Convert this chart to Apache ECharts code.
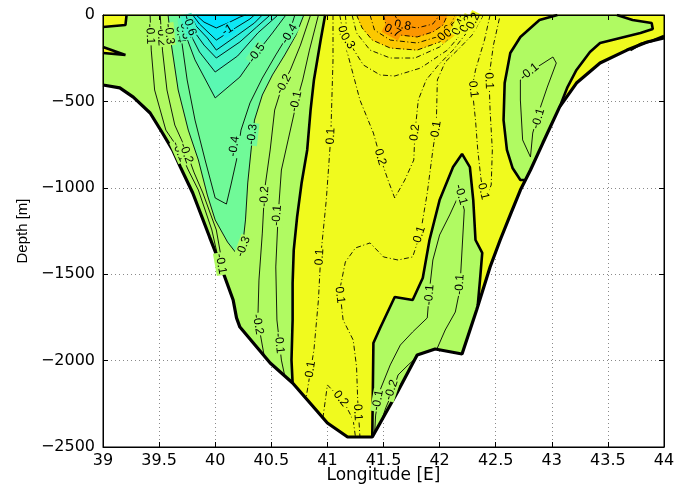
<!DOCTYPE html>
<html>
<head>
<meta charset="utf-8">
<script src="https://cdn.jsdelivr.net/npm/echarts/dist/echarts.min.js"></script>
<style>
  html, body { margin: 0; padding: 0; background: #fff; }
  #chart { width: 674px; height: 487px; }
</style>
</head>
<body>
<div id="chart"></div>
<script>
// ---- axes -------------------------------------------------------------
const lonTicks = [39, 39.5, 40, 40.5, 41, 41.5, 42, 42.5, 43, 43.5, 44];
const depthTicks = [-2500, -2000, -1500, -1000, -500, 0];

// ---- section geometry: [longitude, depth] ------------------------------
const seafloor = [[39.00,-405],[39.15,-422],[39.27,-475],[39.42,-567],[39.53,-683],[39.62,-781],[39.69,-880],
  [39.80,-1030],[39.95,-1285],[40.04,-1435],[40.16,-1649],[40.19,-1753],[40.22,-1806],[40.49,-2014],
  [40.69,-2130],[41.00,-2361],[41.18,-2442],[41.40,-2442],[41.47,-2361],[41.62,-2188],[41.80,-1968],
  [41.96,-1933],[42.20,-1962],[42.33,-1707],[42.45,-1458],[42.54,-1302],[42.63,-1157],[42.72,-1013],
  [42.81,-897],[42.92,-741],[43.07,-532],[43.22,-394],[43.43,-278],[43.67,-203],[43.85,-156],[44.00,-133]];

// zero contours (thick)
const zeroPatchTop = [[39.00,-69],[39.20,-58],[39.21,0]];
const zeroWedge = [[39.00,-185],[39.20,-231],[39.00,-220]];
const zeroLeft = [[40.98,0],[40.94,-145],[40.91,-260],[40.88,-376],[40.85,-550],[40.82,-781],[40.77,-972],
  [40.73,-1169],[40.70,-1360],[40.69,-1551],[40.69,-1765],[40.68,-1997],[40.69,-2130]];
const zeroTongue = [[41.40,-2442],[41.41,-1898],[41.47,-1811],[41.60,-1632],[41.76,-1649],[41.85,-1522],
  [41.91,-1302],[42.00,-1071],[42.12,-880],[42.20,-804],[42.27,-880],[42.30,-1071],[42.32,-1302],
  [42.38,-1377],[42.36,-1534],[42.34,-1680]];
const zeroBandLeft = [[43.05,0],[42.89,-29],[42.72,-127],[42.63,-220],[42.58,-394],[42.57,-608],
  [42.60,-781],[42.65,-885],[42.72,-955],[42.76,-955]];
const zeroBandRight = [[43.07,-532],[43.14,-417],[43.22,-318],[43.34,-214],[43.43,-162],[43.61,-133],
  [43.79,-104],[43.90,-81],[43.89,-46],[43.72,-29],[43.58,0]];
const zeroSliver = [[43.70,-203],[43.79,-168],[43.89,-150],[44.00,-122]];

// negative contours (solid)
const levelM03 = [[39.58,0],[39.61,-174],[39.67,-434],[39.76,-666],[39.85,-839],[39.93,-1042],[40.00,-1186],
  [40.11,-1314],[40.20,-1389],[40.25,-1302],[40.27,-1186],[40.29,-972],[40.32,-781],[40.35,-608],
  [40.42,-463],[40.51,-347],[40.62,-231],[40.72,-116],[40.79,0]];
const levelM05 = [[39.70,0],[39.72,-87],[39.82,-260],[40.00,-480],[40.22,-359],[40.37,-220],[40.51,-104],[40.63,0]];
const levelM06 = [[39.72,0],[39.76,-87],[39.86,-214],[40.00,-330],[40.20,-237],[40.38,-104],[40.56,0]];
const levelM07 = [[39.75,0],[39.79,-75],[39.90,-174],[40.01,-249],[40.22,-156],[40.37,-69],[40.49,0]];
const levelM08 = [[39.78,0],[39.83,-64],[39.93,-133],[40.01,-203],[40.20,-116],[40.35,-46],[40.42,0]];
const levelM09 = [[39.80,0],[39.86,-52],[40.01,-145],[40.18,-75],[40.31,-23],[40.35,0]];
const levelM10 = [[39.83,0],[39.90,-41],[40.01,-75],[40.13,-41],[40.22,-12],[40.27,0]];
const levelM04 = [[40.71,0],[40.66,-104],[40.54,-231],[40.42,-365],[40.31,-509],[40.23,-666],[40.19,-839],
  [40.14,-984],[40.10,-1094],[40.00,-1059],[39.91,-839],[39.82,-608],[39.75,-376],[39.70,-145],[39.68,0]];
const levelM02East = [[40.85,0],[40.76,-174],[40.67,-318],[40.60,-405],[40.53,-550],[40.49,-781],[40.44,-1013],
  [40.42,-1262],[40.39,-1534],[40.38,-1765],[40.40,-1840],[40.44,-1985]];
const levelM01East = [[40.92,0],[40.84,-203],[40.78,-376],[40.73,-492],[40.65,-723],[40.59,-897],[40.56,-1169],
  [40.54,-1458],[40.55,-1765],[40.59,-1997],[40.62,-2089]];
const levelM02West = [[39.51,0],[39.53,-203],[39.57,-434],[39.64,-637],[39.74,-781],[39.81,-909],[39.89,-1030],
  [40.01,-1244],[40.07,-1464]];
const levelM01West = [[39.42,0],[39.43,-203],[39.46,-434],[39.56,-666],[39.68,-781],[39.76,-897],[39.85,-1013],
  [39.97,-1244],[40.03,-1418]];
const levelM01Tongue = [[41.42,-2430],[41.43,-2315],[41.47,-2170],[41.56,-2025],[41.65,-1910],[41.76,-1834],
  [41.89,-1753],[41.91,-1591],[41.94,-1418],[42.00,-1273],[42.09,-1157],[42.18,-1030],[42.22,-1128],
  [42.20,-1360],[42.18,-1591],[42.14,-1719],[42.05,-1823],[41.98,-1927]];
const levelM02Slope = [[41.81,-1973],[41.72,-2025],[41.63,-2083],[41.58,-2182],[41.52,-2274],[41.48,-2350]];
const levelM01Band = [[42.72,-376],[42.83,-318],[43.01,-243],[43.04,-278],[42.96,-417],[42.89,-550],
  [42.83,-683],[42.81,-822],[42.74,-723],[42.72,-492],[42.72,-376]];

// positive contours (dash-dot)
const levelP05 = [[41.26,0],[41.31,-75],[41.40,-145],[41.56,-191],[41.80,-203],[42.00,-156],[42.14,-81],[42.19,0]];
const levelP07 = [[41.50,0],[41.53,-75],[41.65,-116],[41.80,-127],[41.94,-98],[42.03,-58],[42.07,0]];
const levelP06 = [[41.38,0],[41.42,-87],[41.56,-145],[41.80,-162],[42.00,-122],[42.11,-41],[42.14,0]];
const levelP08 = [[41.60,0],[41.65,-58],[41.80,-75],[41.94,-52],[42.00,0]];
const levelP04 = [[41.22,0],[41.26,-104],[41.38,-203],[41.56,-249],[41.78,-249],[42.00,-185],[42.15,-98],[42.22,0]];
const levelP03 = [[41.16,0],[41.18,-145],[41.32,-289],[41.47,-347],[41.60,-353],[41.83,-307],[42.07,-203],
  [42.20,-104],[42.27,0]];
const levelP02 = [[41.11,0],[41.16,-174],[41.29,-492],[41.41,-683],[41.47,-822],[41.54,-955],[41.60,-1059],
  [41.69,-955],[41.77,-839],[41.78,-683],[41.81,-492],[41.88,-376],[41.99,-289],[42.12,-203],[42.24,-104],[42.32,0]];
const levelP01West = [[41.05,0],[41.05,-260],[41.03,-706],[40.99,-1071],[40.94,-1400],[40.92,-1649],
  [40.88,-1939],[40.81,-2216]];
const levelP01Mid = [[42.39,0],[42.29,-116],[42.16,-203],[42.05,-272],[41.98,-376],[41.97,-648],[41.94,-781],
  [41.89,-1030],[41.83,-1262],[41.76,-1400],[41.63,-1418],[41.50,-1400],[41.38,-1319],[41.25,-1348],
  [41.16,-1429],[41.11,-1591],[41.14,-1765],[41.23,-1881],[41.26,-2037],[41.27,-2228],[41.29,-2442]];
const levelP01East = [[42.45,0],[42.40,-145],[42.32,-318],[42.29,-422],[42.32,-608],[42.34,-781],[42.37,-955],
  [42.41,-1059],[42.46,-984],[42.47,-781],[42.45,-550],[42.44,-359],[42.48,-174],[42.54,0]];
const levelP02Deep = [[40.96,-2332],[41.00,-2141],[41.07,-2188],[41.17,-2268],[41.23,-2344],[41.25,-2442]];

// contour labels: [longitude, depth, text]
const contourLabels = [
  [40.11,-87,'-1'], [40.37,-220,'-0.5'], [40.66,-110,'-0.4'], [40.17,-760,'-0.4'],
  [40.33,-690,'-0.3'], [40.25,-1340,'-0.3'], [40.61,-400,'-0.2'], [40.44,-1050,'-0.2'],
  [40.38,-1790,'-0.2'], [40.72,-500,'-0.1'], [40.55,-1160,'-0.1'], [40.57,-1900,'-0.1'],
  [39.68,-790,'-0.1'], [39.74,-800,'-0.2'], [40.05,-1440,'-0.1'],
  [39.42,-110,'-0.1'], [39.52,-120,'-0.2'], [39.59,-110,'-0.3'], [39.69,-100,'-0.4'],
  [39.73,-80,'-0.5'], [39.77,-60,'-0.6'],
  [41.14,-110,'0.2'], [41.18,-150,'0.3'], [41.67,-60,'0.8'], [41.58,-92,'0.7'],
  [42.05,-104,'0.6'], [42.11,-87,'0.5'], [42.17,-69,'0.4'], [42.24,-52,'0.3'], [42.30,-35,'0.2'],
  [41.03,-700,'0.1'], [40.93,-1400,'0.1'], [40.85,-2050,'0.1'],
  [41.47,-822,'0.2'], [41.78,-680,'0.2'], [41.97,-660,'0.1'], [41.82,-1270,'0.1'],
  [41.11,-1620,'0.1'], [41.27,-2300,'0.1'], [41.12,-2220,'0.2'],
  [42.30,-430,'0.1'], [42.44,-380,'0.1'], [42.39,-1020,'0.1'],
  [42.19,-1040,'-0.1'], [41.91,-1620,'-0.1'], [42.18,-1560,'-0.1'], [41.45,-2230,'-0.1'], [41.57,-2170,'-0.2'],
  [42.80,-330,'-0.1'], [42.88,-600,'-0.1']
];

// ---- colours --------------------------------------------------------------
const C = {
  yellow: '#f0fa1e', lime: '#b0fa62', teal: '#70fa98',
  c05: '#5af8b2', c06: '#46f4c6', c07: '#32f0d8', c08: '#1eece8', c09: '#0ee8f4', c10: '#00e2ff',
  gold: '#fcc800', orange: '#fc9600'
};

// ---- filled regions built from the contours and the seafloor --------------
const xMin = lonTicks[0], xMax = lonTicks[lonTicks.length - 1];
const waterFill = [[xMin, 0], [xMax, 0]].concat(seafloor.slice().reverse());
const leftNegFill = zeroPatchTop
  .concat(zeroLeft)
  .concat(seafloor.slice(0, 14).reverse())
  .concat(zeroWedge.slice().reverse());
const tongueFill = zeroTongue.concat(seafloor.slice(17, 23).reverse());
const bandFill = zeroBandLeft.concat(seafloor.slice(28, 30)).concat(zeroBandRight);
const sliverFill = zeroSliver.concat([seafloor[35], seafloor[34]]);

const fills = [
  { pts: waterFill, color: C.yellow },
  { pts: leftNegFill, color: C.lime },
  { pts: levelM03, color: C.teal },
  { pts: levelM05, color: C.c05 },
  { pts: levelM06, color: C.c06 },
  { pts: levelM07, color: C.c07 },
  { pts: levelM08, color: C.c08 },
  { pts: levelM09, color: C.c09 },
  { pts: levelM10, color: C.c10 },
  { pts: tongueFill, color: C.lime },
  { pts: bandFill, color: C.lime },
  { pts: sliverFill, color: C.lime },
  { pts: levelP05, color: C.gold },
  { pts: levelP07, color: C.orange }
];

const negLines = [levelM03, levelM04, levelM05, levelM06, levelM07, levelM08, levelM09, levelM10,
  levelM02East, levelM01East, levelM02West, levelM01West, levelM01Tongue, levelM02Slope, levelM01Band];
const posLines = [levelP01West, levelP01Mid, levelP01East, levelP02, levelP02Deep, levelP03, levelP04,
  levelP05, levelP06, levelP07, levelP08];
const zeroLines = [zeroPatchTop, zeroWedge, zeroLeft, zeroTongue, zeroBandLeft, zeroBandRight, zeroSliver];
const labelledLines = negLines.concat(posLines);

// ---- helpers ----------------------------------------------------------------
function inside(pt, poly) {
  let c = false;
  for (let i = 0, j = poly.length - 1; i < poly.length; j = i++) {
    const xi = poly[i][0], yi = poly[i][1], xj = poly[j][0], yj = poly[j][1];
    if (((yi > pt[1]) !== (yj > pt[1])) && (pt[0] < (xj - xi) * (pt[1] - yi) / (yj - yi) + xi)) c = !c;
  }
  return c;
}
function fillAt(pt) {
  for (let k = fills.length - 1; k >= 0; k--) if (inside(pt, fills[k].pts)) return fills[k].color;
  return '#fff';
}
function segDist(p, a, b) {
  const dx = b[0] - a[0], dy = b[1] - a[1];
  const l2 = dx * dx + dy * dy;
  let t = l2 ? ((p[0] - a[0]) * dx + (p[1] - a[1]) * dy) / l2 : 0;
  t = Math.max(0, Math.min(1, t));
  const x = a[0] + t * dx - p[0], y = a[1] + t * dy - p[1];
  return Math.sqrt(x * x + y * y);
}
const minusFmt = v => (v < 0 ? '\u2212' : '') + Math.abs(v);

const FONT = '"Liberation Sans", Arial, Helvetica, sans-serif';
const WIDE = '"DejaVu Sans", Verdana, sans-serif';

// ---- series -------------------------------------------------------------------
const series = [];
fills.forEach(f => {
  series.push({
    type: 'custom', silent: true, animation: false, z: 1,
    data: [f.pts[0]],
    renderItem: (params, api) => ({
      type: 'polygon',
      shape: { points: f.pts.map(p => api.coord(p)) },
      style: { fill: f.color, stroke: f.color, lineWidth: 0.6 }
    })
  });
});
function addLines(list, style, z) {
  list.forEach(pts => series.push({
    type: 'line', data: pts, showSymbol: false, symbol: 'none', silent: true,
    animation: false, z: z, lineStyle: style
  }));
}
addLines(negLines, { color: '#000', width: 0.9, type: 'solid' }, 3);
addLines(posLines, { color: '#000', width: 0.9, type: [5, 2.5, 1, 2.5] }, 3);
addLines(zeroLines, { color: '#000', width: 2.6, type: 'solid' }, 4);
addLines([seafloor], { color: '#000', width: 3.2, type: 'solid' }, 4);

series.push({
  type: 'custom', silent: true, animation: false, z: 5,
  data: contourLabels.map(l => [l[0], l[1]]),
  renderItem: (params, api) => {
    const lab = contourLabels[params.dataIndex];
    const p = api.coord([lab[0], lab[1]]);
    let best = Infinity, ang = 0;
    labelledLines.forEach(line => {
      for (let i = 0; i < line.length - 1; i++) {
        const a = api.coord(line[i]), b = api.coord(line[i + 1]);
        const d = segDist(p, a, b);
        if (d < best) { best = d; ang = Math.atan2(-(b[1] - a[1]), b[0] - a[0]); }
      }
    });
    if (ang > Math.PI / 2) ang -= Math.PI;
    if (ang <= -Math.PI / 2) ang += Math.PI;
    return {
      type: 'text', x: p[0], y: p[1], rotation: ang,
      style: {
        text: lab[2], fill: '#000', font: '12px ' + FONT,
        align: 'center', verticalAlign: 'middle',
        backgroundColor: fillAt([lab[0], lab[1]]), padding: [0, 1]
      }
    };
  }
});

// ---- axes ------------------------------------------------------------------------
const xRange = { min: xMin, max: xMax, interval: lonTicks[1] - lonTicks[0] };
const yRange = { min: depthTicks[0], max: depthTicks[depthTicks.length - 1], interval: depthTicks[1] - depthTicks[0] };
const tickStyle = { show: true, inside: true, length: 5, lineStyle: { color: '#000', width: 1 } };
const gridLine = { show: true, lineStyle: { color: '#8a8a8a', width: 1, type: [1, 3] } };

const option = {
  backgroundColor: '#fff',
  animation: false,
  grid: { left: 103, right: 10, top: 15, bottom: 40, show: true, z: 10,
          containLabel: false, outerBoundsMode: 'none',
          borderColor: '#000', borderWidth: 1, backgroundColor: 'transparent' },
  xAxis: [
    Object.assign({ type: 'value', position: 'bottom', z: 10,
      axisLine: { show: true, onZero: false, lineStyle: { color: '#000', width: 1 } },
      axisTick: tickStyle,
      axisLabel: { color: '#000', fontSize: 16, fontFamily: WIDE, margin: 6, formatter: v => String(v) },
      splitLine: { show: false },
      name: 'Longitude [E]', nameLocation: 'middle', nameGap: 20, nameMoveOverlap: false,
      nameTextStyle: { color: '#000', fontSize: 17, fontFamily: WIDE } }, xRange),
    Object.assign({ type: 'value', position: 'top', z: 10,
      axisLine: { show: true, onZero: false, lineStyle: { color: '#000', width: 1 } },
      axisTick: tickStyle, axisLabel: { show: false }, splitLine: { show: false } }, xRange),
    Object.assign({ type: 'value', position: 'bottom', z: 0,
      axisLine: { show: false }, axisTick: { show: false }, axisLabel: { show: false },
      splitLine: gridLine }, xRange)
  ],
  yAxis: [
    Object.assign({ type: 'value', position: 'left', z: 10,
      axisLine: { show: true, onZero: false, lineStyle: { color: '#000', width: 1 } },
      axisTick: tickStyle,
      axisLabel: { color: '#000', fontSize: 16, fontFamily: WIDE, margin: 8, formatter: minusFmt },
      splitLine: { show: false },
      name: 'Depth [m]', nameLocation: 'middle', nameGap: 73, nameMoveOverlap: false,
      nameTextStyle: { color: '#000', fontSize: 15, fontFamily: FONT } }, yRange),
    Object.assign({ type: 'value', position: 'right', z: 10,
      axisLine: { show: true, onZero: false, lineStyle: { color: '#000', width: 1 } },
      axisTick: tickStyle, axisLabel: { show: false }, splitLine: { show: false } }, yRange),
    Object.assign({ type: 'value', position: 'left', z: 0,
      axisLine: { show: false }, axisTick: { show: false }, axisLabel: { show: false },
      splitLine: gridLine }, yRange)
  ],
  series: series
};

const chart = echarts.init(document.getElementById('chart'));
chart.setOption(option);
</script>
</body>
</html>
